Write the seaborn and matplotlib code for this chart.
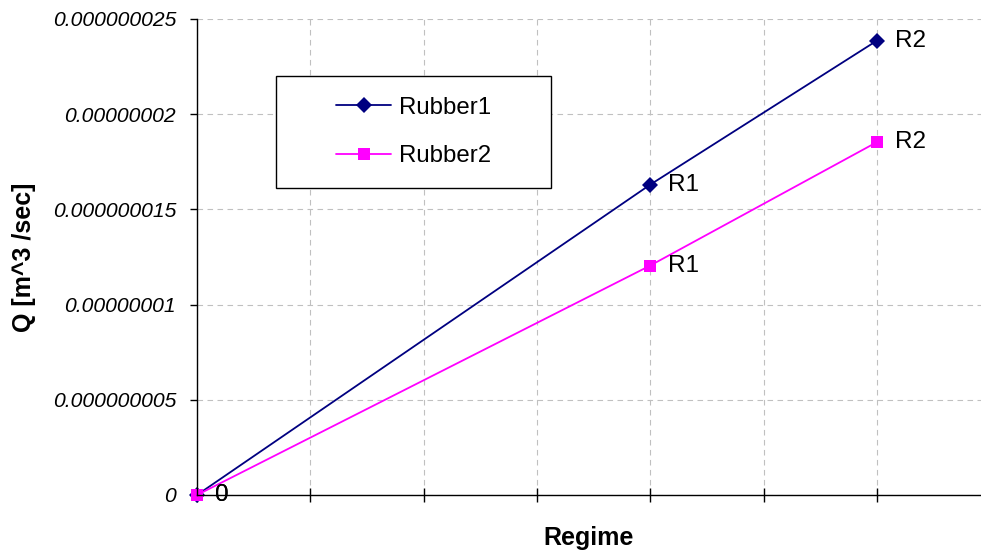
import matplotlib
matplotlib.use("Agg")
import matplotlib.pyplot as plt
import matplotlib.patches as mpatches
import numpy as np
import pandas as pd
import seaborn as sns

# ---- data ----
regime_x = [0, 4, 6]
point_labels = ["0", "R1", "R2"]
rubber1_q = [0.0, 1.63e-8, 2.386e-8]
rubber2_q = [0.0, 1.205e-8, 1.853e-8]
series_names = ["Rubber1", "Rubber2"]
y_ticks = [0, 5e-9, 1e-8, 1.5e-8, 2e-8, 2.5e-8]
y_tick_labels = ["0", "0.000000005", "0.00000001", "0.000000015",
                 "0.00000002", "0.000000025"]
x_ticks = [0, 1, 2, 3, 4, 5, 6]

colors = {"Rubber1": "#000080", "Rubber2": "#FF00FF"}
markers = {"Rubber1": "D", "Rubber2": "s"}

df = pd.DataFrame({
    "Regime": regime_x * 2,
    "Q": rubber1_q + rubber2_q,
    "Series": [series_names[0]] * 3 + [series_names[1]] * 3,
    "Label": point_labels * 2,
})

sns.set_theme(style="white")
plt.rcParams["font.family"] = ["Liberation Sans", "DejaVu Sans"]
plt.rcParams["text.color"] = "black"
plt.rcParams["axes.labelcolor"] = "black"
plt.rcParams["xtick.color"] = "black"
plt.rcParams["ytick.color"] = "black"

fig = plt.figure(figsize=(9.81, 5.5), dpi=100)
W, H = 981, 550
ax = fig.add_axes([197 / W, 1 - 495 / H, 784 / W, 476 / H])

sns.lineplot(data=df, x="Regime", y="Q", hue="Series", style="Series",
             markers=markers, dashes=False, palette=colors,
             hue_order=series_names, style_order=series_names,
             markersize=8, markeredgewidth=0, linewidth=1.3,
             sort=False, estimator=None, ax=ax, legend=True)
for ln in ax.get_lines():
    ln.set_clip_on(False)
ax.lines[1].set_markersize(8.5)

ax.set_xticks(x_ticks)
ax.set_xticklabels([])
ax.set_yticks(y_ticks)
ax.set_yticklabels(y_tick_labels, fontsize=15.2, style="italic")
ax.set_xlim(0, 784 / 113.3)
ax.set_ylim(0, 2.5e-8)

ax.grid(True, color="#C0C0C0", linestyle=(0, (5, 4)), linewidth=0.8)
ax.set_axisbelow(True)
for s in ["top", "right"]:
    ax.spines[s].set_visible(False)
for s in ["left", "bottom"]:
    ax.spines[s].set_color("black")
    ax.spines[s].set_linewidth(1.0)
ax.tick_params(axis="y", direction="out", length=5, width=1, color="black", pad=10,
               left=True, labelcolor="black")
ax.tick_params(axis="x", direction="inout", length=9.5, width=1, color="black",
               bottom=True)

ax.set_xlabel("Regime", fontsize=18, fontweight="bold", labelpad=14, color="black")
ax.set_ylabel("Q [m^3 /sec]", fontsize=18, fontweight="bold", labelpad=12, color="black")

# point labels
for _, row in df.iterrows():
    ax.annotate(row["Label"], (row["Regime"], row["Q"]), xytext=(13, 0),
                textcoords="offset points", ha="left", va="center",
                fontsize=17.5, color="black", annotation_clip=False)

# legend
handles, labels = ax.get_legend_handles_labels()
leg = ax.legend(handles, labels, loc="center",
                bbox_to_anchor=((413.5 - 197) / 784, 1 - (132 - 19) / 476),
                frameon=False, fontsize=17.3, handlelength=2.3,
                handletextpad=0.3, labelspacing=1.1)
for t in leg.get_texts():
    t.set_color("black")
rect = mpatches.Rectangle(((276 - 197) / 784, 1 - (188 - 19) / 476),
                          275 / 784, 112 / 476, transform=ax.transAxes,
                          facecolor="white", edgecolor="black", linewidth=1.0,
                          zorder=4)
ax.add_patch(rect)
leg.set_zorder(5)

fig.savefig("out.png", dpi=100)
